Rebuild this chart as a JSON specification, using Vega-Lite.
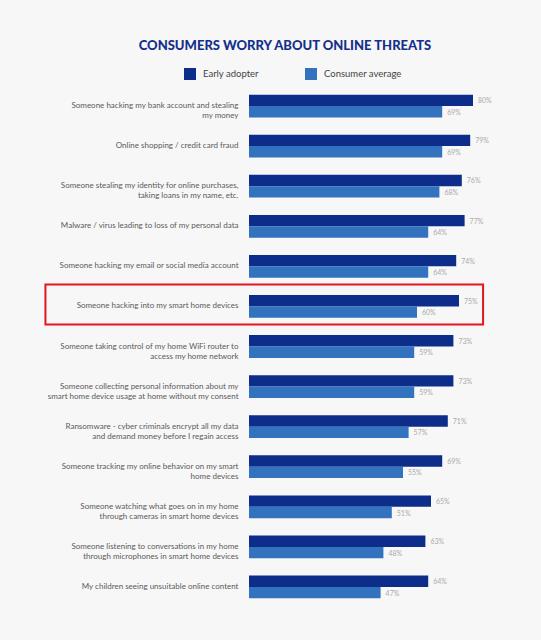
{
  "$schema": "https://vega.github.io/schema/vega-lite/v6.json",
  "autosize": {"type": "none"},
  "padding": {"left": 249, "top": 86, "right": 12, "bottom": 33},
  "width": 280,
  "height": 521,
  "background": "#f7f7f7",
  "title": {
    "text": "CONSUMERS WORRY ABOUT ONLINE THREATS",
    "fontSize": 13,
    "fontWeight": 900,
    "color": "#14308c",
    "anchor": "middle",
    "frame": "group",
    "dx": -104,
    "dy": 31,
    "baseline": "alphabetic",
    "offset": 36
  },
  "config": {
    "font": "Lato",
    "view": {"stroke": null},
    "legend": {"padding": 0}
  },
  "data": {
    "values": [
      {"category": "Someone hacking my bank account and stealing|my money", "group": "Early adopter", "value": 0.80},
      {"category": "Someone hacking my bank account and stealing|my money", "group": "Consumer average", "value": 0.69},
      {"category": "Online shopping / credit card fraud", "group": "Early adopter", "value": 0.79},
      {"category": "Online shopping / credit card fraud", "group": "Consumer average", "value": 0.69},
      {"category": "Someone stealing my identity for online purchases,|taking loans in my name, etc.", "group": "Early adopter", "value": 0.76},
      {"category": "Someone stealing my identity for online purchases,|taking loans in my name, etc.", "group": "Consumer average", "value": 0.68},
      {"category": "Malware / virus leading to loss of my personal data", "group": "Early adopter", "value": 0.77},
      {"category": "Malware / virus leading to loss of my personal data", "group": "Consumer average", "value": 0.64},
      {"category": "Someone hacking my email or social media account", "group": "Early adopter", "value": 0.74},
      {"category": "Someone hacking my email or social media account", "group": "Consumer average", "value": 0.64},
      {"category": "Someone hacking into my smart home devices", "group": "Early adopter", "value": 0.75},
      {"category": "Someone hacking into my smart home devices", "group": "Consumer average", "value": 0.60},
      {"category": "Someone taking control of my home WiFi router to|access my home network", "group": "Early adopter", "value": 0.73},
      {"category": "Someone taking control of my home WiFi router to|access my home network", "group": "Consumer average", "value": 0.59},
      {"category": "Someone collecting personal information about my|smart home device usage at home without my consent", "group": "Early adopter", "value": 0.73},
      {"category": "Someone collecting personal information about my|smart home device usage at home without my consent", "group": "Consumer average", "value": 0.59},
      {"category": "Ransomware - cyber criminals encrypt all my data|and demand money before I regain access", "group": "Early adopter", "value": 0.71},
      {"category": "Ransomware - cyber criminals encrypt all my data|and demand money before I regain access", "group": "Consumer average", "value": 0.57},
      {"category": "Someone tracking my online behavior on my smart|home devices", "group": "Early adopter", "value": 0.69},
      {"category": "Someone tracking my online behavior on my smart|home devices", "group": "Consumer average", "value": 0.55},
      {"category": "Someone watching what goes on in my home|through cameras in smart home devices", "group": "Early adopter", "value": 0.65},
      {"category": "Someone watching what goes on in my home|through cameras in smart home devices", "group": "Consumer average", "value": 0.51},
      {"category": "Someone listening to conversations in my home|through microphones in smart home devices", "group": "Early adopter", "value": 0.63},
      {"category": "Someone listening to conversations in my home|through microphones in smart home devices", "group": "Consumer average", "value": 0.48},
      {"category": "My children seeing unsuitable online content", "group": "Early adopter", "value": 0.64},
      {"category": "My children seeing unsuitable online content", "group": "Consumer average", "value": 0.47}
    ]
  },
  "encoding": {
    "y": {
      "field": "category",
      "type": "nominal",
      "sort": null,
      "scale": {"paddingInner": 0, "paddingOuter": 0},
      "axis": {
        "title": null,
        "domain": false,
        "ticks": false,
        "labelPadding": 11,
        "labelFontSize": 8,
        "labelColor": "#5a5a5a",
        "labelLimit": 300,
        "labelLineHeight": 10,
        "labelExpr": "split(datum.label, '|')"
      }
    },
    "yOffset": {
      "field": "group",
      "sort": ["Early adopter", "Consumer average"],
      "scale": {"paddingOuter": 0.76, "paddingInner": 0}
    }
  },
  "layer": [
    {
      "mark": {"type": "bar"},
      "encoding": {
        "x": {"field": "value", "type": "quantitative", "scale": {"domain": [0, 1]}, "axis": null},
        "color": {
          "field": "group",
          "type": "nominal",
          "sort": ["Early adopter", "Consumer average"],
          "scale": {"domain": ["Early adopter", "Consumer average"], "range": ["#0c2d8a", "#3272be"]},
          "legend": {
            "title": null,
            "orient": "none",
            "direction": "horizontal",
            "legendX": -65,
            "legendY": -18,
            "symbolType": "square",
            "symbolSize": 144,
            "symbolStrokeWidth": 0,
            "symbolOpacity": 1,
            "labelFontSize": 9.5,
            "labelColor": "#444444",
            "labelOffset": 7,
            "columnPadding": 46
          }
        }
      }
    },
    {
      "mark": {"type": "text", "align": "left", "baseline": "middle", "dx": 5, "dy": 1, "fontSize": 7, "color": "#aaaaaa"},
      "encoding": {
        "x": {"field": "value", "type": "quantitative"},
        "text": {"field": "value", "type": "quantitative", "format": ".0%"}
      }
    },
    {
      "data": {"values": [{"category": "Someone hacking into my smart home devices"}]},
      "mark": {"type": "rect", "fill": null, "stroke": "#e3141f", "strokeWidth": 2, "yOffset": -2, "clip": false},
      "encoding": {
        "yOffset": null,
        "x": {"datum": -0.727, "type": "quantitative"},
        "x2": {"datum": 0.836}
      }
    }
  ]
}
